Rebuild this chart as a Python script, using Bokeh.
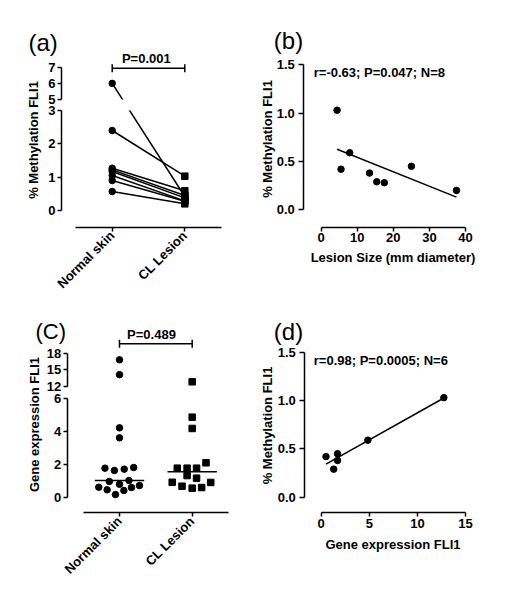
import math
import numpy as np
from bokeh.plotting import figure
from bokeh.layouts import column, row
from bokeh.models import LinearAxis, FixedTicker, Label, Range1d, NumeralTickFormatter
from bokeh.embed import file_html
from bokeh.resources import INLINE

# ---------------- data ----------------
categories = ["Normal skin", "CL Lesion"]

# (a) % methylation FLI1, paired samples (normal skin -> CL lesion)
a_normal = [6.0, 2.4, 1.27, 1.22, 1.17, 1.05, 0.90, 0.57]
a_lesion = [0.42, 1.03, 0.59, 0.45, 0.38, 0.29, 0.28, 0.20]
a_ticks_low = [0, 1, 2, 3]
a_ticks_high = [5, 6, 7]
a_p = "P=0.001"

# (b) lesion size vs methylation
b_lesion_size = [4.4, 5.5, 7.9, 13.4, 15.4, 17.5, 25.0, 37.5]
b_methylation = [1.03, 0.42, 0.59, 0.38, 0.29, 0.28, 0.45, 0.20]
b_xticks = [0, 10, 20, 30, 40]
b_yticks = [0.0, 0.5, 1.0, 1.5]
b_stats = "r=-0.63; P=0.047; N=8"

# (c) gene expression FLI1
c_normal = [16.8, 14.1, 4.23, 3.62, 1.77, 1.63, 1.71, 1.81, 0.96, 0.79, 1.02,
            0.61, 0.45, 0.16, 0.41, 0.59, 0.71]
c_normal_jitter = [0, 0, 0, 0, -0.20, -0.07, 0.065, 0.195, -0.14, 0.0, 0.13,
                   -0.285, -0.17, -0.055, 0.06, 0.165, 0.275]
c_lesion = [12.8, 4.88, 4.19, 2.10, 1.77, 1.77, 1.77, 1.32, 1.16, 0.91, 0.67,
            0.55, 0.59, 0.90]
c_lesion_jitter = [0, 0, 0, 0.19, -0.205, -0.07, 0.06, -0.07, 0.06, -0.275, -0.14,
                   0.0, 0.13, 0.255]
c_ticks_low = [0, 2, 4, 6]
c_ticks_high = [12, 15, 18]
c_p = "P=0.489"

# (d) gene expression vs methylation
d_gene_expr = [0.5, 1.3, 1.7, 1.7, 4.85, 12.75]
d_methylation = [0.42, 0.29, 0.45, 0.38, 0.59, 1.03]
d_xticks = [0, 5, 10, 15]
d_yticks = [0.0, 0.5, 1.0, 1.5]
d_stats = "r=0.98; P=0.0005; N=6"

y_label_meth = "% Methylation FLI1"
y_label_gene = "Gene expression FLI1"
x_label_b = "Lesion Size (mm diameter)"
x_label_d = "Gene expression FLI1"

# ---------------- styling / layout ----------------
FONT = "Liberation Sans"
INK = "black"
FW, FH = 258, 298


def ta(v):
    # broken axis of panel (a): 0-3 | 5-7
    return round(v if v <= 3 else 3 + 0.33 + (v - 5) * 0.4845, 4)


def tc(v):
    # broken axis of panel (c): 0-6 | 12-18
    return round(v if v <= 6 else 6 + 0.768 + (v - 12) * 0.3354, 4)


class Panel:
    """Figure whose frame fills the whole figure; maps page pixels to data."""

    def __init__(self, ox, oy, xv, xpx, xs, yv, ypx, ys):
        self.L, self.R, self.T, self.B = ox, ox + FW, oy, oy + FH
        self.xs, self.ys = xs, ys
        self.x0 = xv - (xpx - self.L) / xs
        self.x1 = xv + (self.R - xpx) / xs
        self.y0 = yv - (self.B - ypx) / ys
        self.y1 = yv + (ypx - self.T) / ys

    def dx(self, px):
        return self.x0 + (px - self.L) / self.xs

    def dy(self, py):
        return self.y0 + (self.B - py) / self.ys

    def fig(self):
        p = figure(width=FW, height=FH,
                   x_range=Range1d(self.x0, self.x1), y_range=Range1d(self.y0, self.y1),
                   x_axis_location=None, y_axis_location=None,
                   output_backend="svg", toolbar_location=None,
                   min_border=0, min_border_left=0, min_border_right=0,
                   min_border_top=0, min_border_bottom=0)
        p.outline_line_color = None
        p.grid.visible = False
        p.background_fill_color = "white"
        p.border_fill_color = "white"
        return p


def axis(p, side, loc, bounds, ticks, overrides=None, formatter=None,
         tick_out=4, standoff=2, orientation=None):
    ax = LinearAxis(fixed_location=loc, bounds=bounds, ticker=FixedTicker(ticks=ticks))
    if overrides:
        ax.major_label_overrides = overrides
    if formatter is not None:
        ax.formatter = formatter
    if orientation is not None:
        ax.major_label_orientation = orientation
    ax.axis_line_width = 1.5
    ax.axis_line_color = INK
    ax.major_tick_line_width = 1.5
    ax.major_tick_line_color = INK
    ax.major_tick_in = 0
    ax.major_tick_out = tick_out
    ax.minor_tick_line_color = None
    ax.major_label_standoff = standoff
    ax.major_label_text_font = FONT
    ax.major_label_text_font_style = "bold"
    ax.major_label_text_font_size = "13px"
    ax.major_label_text_color = INK
    p.add_layout(ax, side)
    return ax


def add_label(p, x, y, text, size="13px", style="bold", align="left", angle=0.0):
    p.add_layout(Label(x=x, y=y, text=text, text_font=FONT, text_font_size=size,
                       text_font_style=style, text_align=align, text_baseline="middle",
                       angle=angle, text_color=INK))


def bracket(p, pan, y_px, text, text_x, text_y_px):
    yb = pan.dy(y_px)
    cap = 4 / pan.ys
    p.segment(x0=[1, 1, 2], x1=[2, 1, 2], y0=[yb, yb - cap, yb - cap], y1=[yb, yb + cap, yb + cap],
              line_color=INK, line_width=1.5)
    add_label(p, text_x, pan.dy(text_y_px), text, align="center")


# page-pixel origins of the four panels (body margin is zero in Bokeh's page)
O_A, O_B, O_C, O_D = (0, 0), (FW, 0), (0, FH), (FW, FH)

# ---------------- panel (a) ----------------
pa = Panel(*O_A, 1, 111.7, 72.6, 0, 210, 33.33)
a = pa.fig()
ax_a = pa.dx(61)
axis(a, "left", ax_a, (0, 3), a_ticks_low)
up_ticks = [ta(v) for v in a_ticks_high]
axis(a, "left", ax_a, (ta(5), ta(7)), up_ticks,
     overrides={t: str(v) for t, v in zip(up_ticks, a_ticks_high)})
axis(a, "below", pa.dy(226.7), (0.5, 2.5), [1, 2],
     overrides={1: categories[0], 2: categories[1]}, orientation=math.pi / 4)

a.segment(x0=[1] * len(a_normal), x1=[2] * len(a_lesion),
          y0=[ta(v) for v in a_normal], y1=[ta(v) for v in a_lesion],
          line_color=INK, line_width=1.5)
a.quad(left=ax_a + 0.05, right=pa.x1, bottom=3, top=ta(5), fill_color="white", line_color=None)
a.scatter([2] * len(a_lesion), [ta(v) for v in a_lesion], marker="square", size=6.5,
          fill_color=INK, line_color=INK)
a.scatter([1] * len(a_normal), [ta(v) for v in a_normal], marker="circle", size=6.5,
          fill_color=INK, line_color=INK)
bracket(a, pa, 67.7, a_p, 1.47, 57.5)
add_label(a, pa.dx(28), pa.dy(42), "(a)", size="24px", style="normal")
add_label(a, pa.dx(33), pa.dy(139.5), y_label_meth, align="center", angle=math.pi / 2)

# ---------------- panel (b) ----------------
pb = Panel(*O_B, 0, 320.7, 3.6075, 0, 209.3, 96.67)
b = pb.fig()
axis(b, "left", pb.dx(303.3), (0, 1.5), b_yticks, formatter=NumeralTickFormatter(format="0.0"),
     tick_out=5, standoff=4)
axis(b, "below", pb.dy(226.7), (0, 40), b_xticks)
kb = np.polyfit(b_lesion_size, b_methylation, 1)
bx = [min(b_lesion_size), max(b_lesion_size)]
b.line(bx, [kb[0] * v + kb[1] for v in bx], line_color=INK, line_width=1.5)
b.scatter(b_lesion_size, b_methylation, marker="circle", size=6.5, fill_color=INK, line_color=INK)
add_label(b, pb.dx(313.3), pb.dy(71.7), b_stats)
add_label(b, pb.dx(273.3), pb.dy(40), "(b)", size="24px", style="normal")
add_label(b, pb.dx(266.5), pb.dy(138.5), y_label_meth, align="center", angle=math.pi / 2)
add_label(b, pb.dx(392.5), pb.dy(256.7), x_label_b, align="center")

# ---------------- panel (c) ----------------
pc = Panel(*O_C, 1, 119, 72.7, 0, 496.7, 16.4)
c = pc.fig()
ax_c = pc.dx(66.7)
axis(c, "left", ax_c, (0, 6), c_ticks_low)
upc = [tc(v) for v in c_ticks_high]
axis(c, "left", ax_c, (tc(12), tc(18)), upc,
     overrides={t: str(v) for t, v in zip(upc, c_ticks_high)})
axis(c, "below", pc.dy(512.3), (0.5, 2.5), [1, 2],
     overrides={1: categories[0], 2: categories[1]}, orientation=math.pi / 4)

c.scatter([1 + j for j in c_normal_jitter], [tc(v) for v in c_normal], marker="circle", size=6.5,
          fill_color=INK, line_color=INK)
c.scatter([2 + j for j in c_lesion_jitter], [tc(v) for v in c_lesion], marker="square", size=6.5,
          fill_color=INK, line_color=INK)
mn, ml = float(np.median(c_normal)), float(np.median(c_lesion))
c.segment(x0=[1 - 0.34, 2 - 0.34], x1=[1 + 0.34, 2 + 0.34], y0=[tc(mn), tc(ml)], y1=[tc(mn), tc(ml)],
          line_color=INK, line_width=1.5)
bracket(c, pc, 343.3, c_p, 1.44, 334.3)
add_label(c, pc.dx(35), pc.dy(331), "(C)", size="22px", style="normal")
add_label(c, pc.dx(34), pc.dy(424), y_label_gene, align="center", angle=math.pi / 2)

# ---------------- panel (d) ----------------
pd_ = Panel(*O_D, 0, 320.7, 9.62, 0, 496.7, 96.67)
d = pd_.fig()
axis(d, "left", pd_.dx(304.3), (0, 1.5), d_yticks, formatter=NumeralTickFormatter(format="0.0"),
     tick_out=5, standoff=4)
axis(d, "below", pd_.dy(512.3), (0, 15), d_xticks)
kd = np.polyfit(d_gene_expr, d_methylation, 1)
dxs = [min(d_gene_expr), max(d_gene_expr)]
d.line(dxs, [kd[0] * v + kd[1] for v in dxs], line_color=INK, line_width=1.5)
d.scatter(d_gene_expr, d_methylation, marker="circle", size=6.5, fill_color=INK, line_color=INK)
add_label(d, pd_.dx(313.3), pd_.dy(360), d_stats)
add_label(d, pd_.dx(273.3), pd_.dy(331), "(d)", size="24px", style="normal")
add_label(d, pd_.dx(267), pd_.dy(425), y_label_meth, align="center", angle=math.pi / 2)
add_label(d, pd_.dx(392.5), pd_.dy(544.3), x_label_d, align="center")

layout = column(row(a, b), row(c, d))
open("out.html", "w").write(file_html(layout, INLINE))
